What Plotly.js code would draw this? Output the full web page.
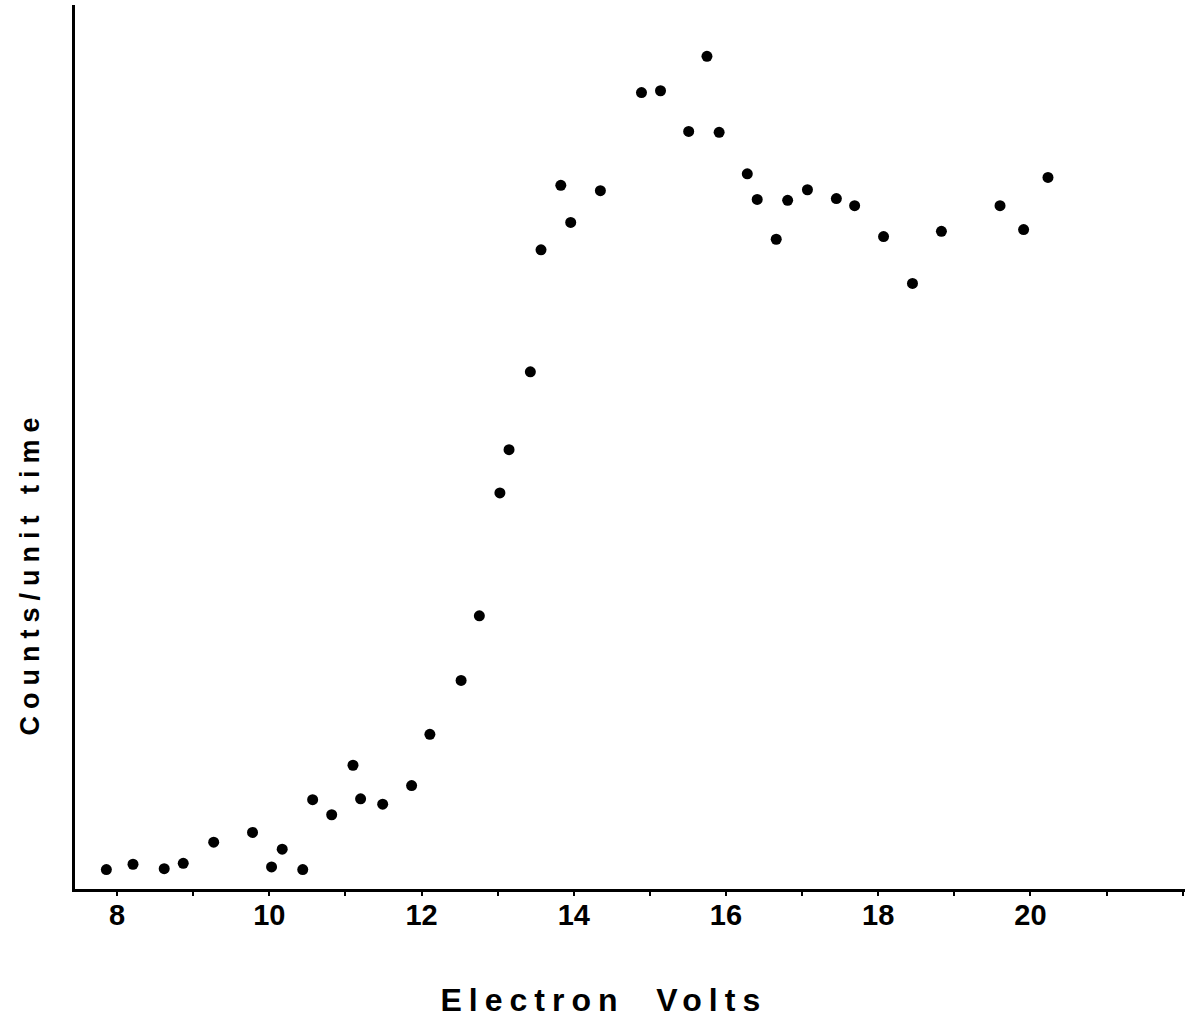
<!DOCTYPE html>
<html>
<head>
<meta charset="utf-8">
<script src="https://cdn.plot.ly/plotly-3.0.1.min.js"></script>
<style>
html, body { margin: 0; padding: 0; background: #fff; }
#chart { width: 1185px; height: 1020px; }
</style>
</head>
<body>
<div id="chart"></div>
<script>
// Electron energy (eV)
const electronVolts = [
  7.86, 8.21, 8.62, 8.87, 9.27, 9.78, 10.03, 10.17, 10.44, 10.57,
  10.82, 11.10, 11.20, 11.49, 11.87, 12.11, 12.52, 12.76, 13.03, 13.15,
  13.43, 13.57, 13.83, 13.96, 14.35, 14.89, 15.14, 15.51, 15.75, 15.91,
  16.28, 16.41, 16.66, 16.81, 17.07, 17.45, 17.69, 18.07, 18.45, 18.83,
  19.60, 19.91, 20.23
];
// Counts per unit time (arbitrary units)
const countsPerUnitTime = [
  2.2, 2.8, 2.3, 2.9, 5.3, 6.4, 2.5, 4.5, 2.2, 10.1,
  8.4, 14.0, 10.2, 9.6, 11.7, 17.5, 23.6, 30.9, 44.8, 49.7,
  58.5, 72.3, 79.6, 75.4, 79.0, 90.1, 90.3, 85.7, 94.2, 85.6,
  80.9, 78.0, 73.5, 77.9, 79.1, 78.1, 77.3, 73.8, 68.5, 74.4,
  77.3, 74.6, 80.5
];
const xTickValues = [8, 10, 12, 14, 16, 18, 20];
const xTickLabels = ["8", "10", "12", "14", "16", "18", "20"];
const xAxisTitle = "Electron\u00A0\u00A0Volts";
const yAxisTitle = "Counts/unit time";

const trace = {
  x: electronVolts,
  y: countsPerUnitTime,
  type: "scatter",
  mode: "markers",
  marker: { color: "#000", size: 11, line: { width: 0 } },
  hoverinfo: "skip"
};

const layout = {
  width: 1185,
  height: 1020,
  margin: { l: 75, r: 0, t: 5, b: 131 },
  paper_bgcolor: "#fff",
  plot_bgcolor: "#fff",
  showlegend: false,
  font: { family: "Liberation Sans, Arial, sans-serif", color: "#000" },
  xaxis: {
    range: [7.448, 22.03],
    showgrid: false,
    zeroline: false,
    showline: true,
    linecolor: "#000",
    linewidth: 3,
    tickmode: "array",
    tickvals: xTickValues,
    ticktext: xTickLabels,
    ticks: "outside",
    ticklen: 4,
    tickwidth: 2,
    tickcolor: "#000",
    ticklabelstandoff: -6,
    tickfont: { family: "Liberation Sans, Arial, sans-serif", size: 29, color: "#000", weight: "bold" },
    minor: { dtick: 1, tick0: 0, ticks: "outside", ticklen: 4, tickwidth: 2, tickcolor: "#000", showgrid: false }
  },
  yaxis: {
    range: [0, 100],
    showgrid: false,
    zeroline: false,
    showline: true,
    linecolor: "#000",
    linewidth: 3,
    ticks: "",
    showticklabels: false
  },
  annotations: [
    {
      text: xAxisTitle,
      xref: "paper", yref: "paper",
      x: 0.4766, y: -0.1256,
      xanchor: "center", yanchor: "middle",
      showarrow: false,
      font: { family: "Liberation Sans, Arial, sans-serif", size: 32, color: "#000", weight: "bold" }
    },
    {
      text: yAxisTitle,
      xref: "paper", yref: "paper",
      x: -0.0405, y: 0.357,
      xanchor: "center", yanchor: "middle",
      textangle: -90,
      showarrow: false,
      font: { family: "Liberation Sans, Arial, sans-serif", size: 27, color: "#000", weight: "bold" }
    }
  ]
};

Plotly.newPlot("chart", [trace], layout, { staticPlot: true, displayModeBar: false }).then(function (gd) {
  const texts = gd.querySelectorAll(".annotation-text");
  if (texts[0]) texts[0].style.letterSpacing = "7px";
  if (texts[1]) texts[1].style.letterSpacing = "7px";
});
</script>
</body>
</html>
